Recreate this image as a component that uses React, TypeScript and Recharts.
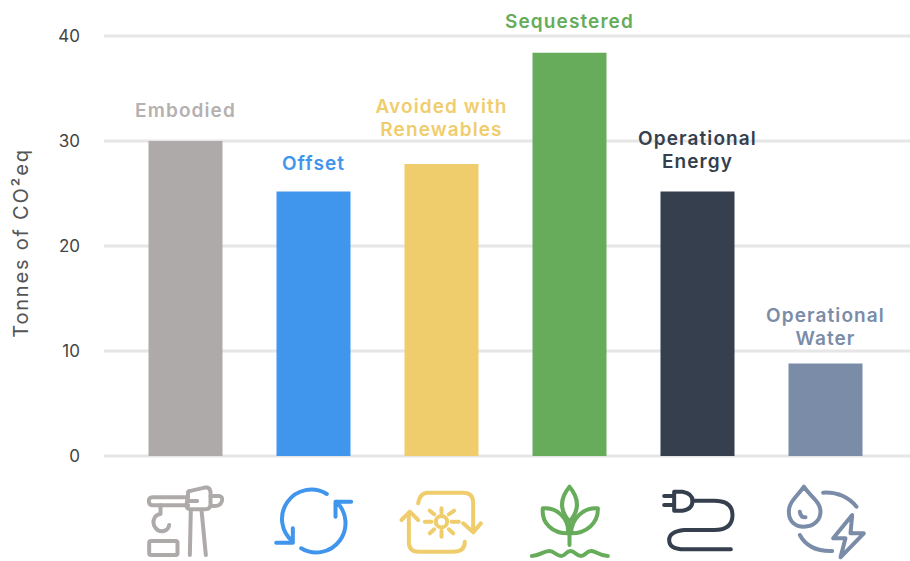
import React from 'react';
import { BarChart, Bar, Cell, XAxis, YAxis, CartesianGrid, LabelList } from 'recharts';

const categories = ['Embodied', 'Offset', 'Avoided with Renewables', 'Sequestered', 'Operational Energy', 'Operational Water'];
const values = [30, 25.2, 27.8, 38.4, 25.2, 8.8];
const yTicks = [0, 10, 20, 30, 40];

const labelLines = [['Embodied'], ['Offset'], ['Avoided with', 'Renewables'], ['Sequestered'], ['Operational', 'Energy'], ['Operational', 'Water']];
const colors = ['#aeaaa9', '#4095ec', '#f0cd6c', '#66ac5a', '#353f4e', '#7a8ca8'];
const labelColors = ['#b4b1b0', '#4095ec', '#f0cd6c', '#66ac5a', '#353f4e', '#7a8ca8'];
const labelGaps = [24, 21, 28, 25, 23, 19];

const data = categories.map((name, i) => ({ name, value: values[i] }));
const font = 'Inter, sans-serif';

// icons are drawn in 3x units, so 1 unit = 1/3 px
const iconCenters = [197, 582, 970, 175, 560, 945];
const icons: React.ReactNode[] = [
  <>
    <path d="M205 82H98Q86 82 87 94Q88 106 100 106H205M272 78H298Q310 80 306 94Q301 108 285 108H272" />
    <path d="M205 70Q202 62 215 62L258 52Q270 52 272 65V105Q270 118 255 118H215Q200 118 200 105ZM205 93H232" />
    <path d="M122 106V132C100 135 95 160 108 175C120 190 145 185 148 165" />
    <rect x={88} y={213} width={85} height={42} rx={6} />
    <path d="M213 120L210 255M245 120L258 255" />
  </>,
  <>
    <path d="M622 72A88 88 0 0 0 520 215M520 175V218H470" />
    <path d="M545 235A88 88 0 0 0 650 95M695 95H648V140" />
  </>,
  <>
    <path d="M900 100Q905 68 930 68H1035Q1065 68 1065 98V185M1035 160L1065 187L1088 160" />
    <path d="M1040 215Q1040 245 1005 245H900Q872 245 872 215V130M850 150L875 125L900 150" />
    <circle cx={970} cy={155} r={17} />
    <path d="M920 155H940M1000 155H1022M970 115V128M970 182V200M935 122L948 133M1008 122L992 133M935 190L948 178M1005 190L992 178" />
  </>,
  <>
    <path d="M175 225V150M175 50C150 80 140 115 175 155C210 115 200 80 175 50Z" />
    <path d="M95 115C140 110 175 150 170 190C125 190 90 160 95 115ZM260 115C215 110 180 150 180 190C225 190 262 160 260 115Z" />
    <path d="M62 258C85 258 95 243 115 243C130 243 135 258 150 258C162 258 165 243 178 243C192 243 195 258 210 258C222 258 225 243 240 243C255 243 265 258 290 258" />
  </>,
  <>
    <path d="M460 78H490M460 105H490M490 65H515Q545 70 545 92Q545 118 515 122H490Z" />
    <path d="M545 92H610Q665 92 665 135Q665 180 610 180H520Q475 185 475 210Q475 238 520 238H660" />
  </>,
  <>
    <path d="M880 50C860 80 835 95 835 125C835 155 855 170 880 170C910 170 930 150 930 125C930 95 900 80 880 50ZM868 125Q870 142 885 142" />
    <path d="M938 68Q1000 65 1038 110M868 195Q895 245 965 243" />
    <path d="M1025 135L968 205H1005L990 262L1060 190H1020Z" />
  </>,
];

function IconTick({ x, index }: any) {
  return (
    <g
      transform={`translate(${x - iconCenters[index] / 3},470) scale(${1 / 3})`}
      fill="none"
      stroke={colors[index]}
      strokeWidth={12}
      strokeLinecap="round"
      strokeLinejoin="round"
    >
      {icons[index]}
    </g>
  );
}

function BarLabel({ x, y, width, index }: any) {
  const lines = labelLines[index];
  const lastBaseline = y - labelGaps[index];
  return (
    <text
      x={x + width / 2}
      textAnchor="middle"
      fontFamily={font}
      fontSize={19}
      fontWeight={600}
      letterSpacing={1.1}
      fill={labelColors[index]}
    >
      {lines.map((line, i) => (
        <tspan key={line} x={x + width / 2} y={lastBaseline - (lines.length - 1 - i) * 23}>
          {line}
        </tspan>
      ))}
    </text>
  );
}

export default function App() {
  return (
    <div style={{ position: 'absolute', left: 0, top: 0, width: 910, height: 561, background: '#fff' }}>
      <BarChart width={910} height={561} data={data} margin={{ top: 36, right: 0, left: 0, bottom: 0 }}>
        <CartesianGrid horizontal vertical={false} stroke="#e6e6e6" strokeWidth={3} />
        <XAxis
          dataKey="name"
          height={105}
          axisLine={false}
          tickLine={false}
          interval={0}
          padding={{ left: 17.5, right: 20.5 }}
          tick={<IconTick />}
        />
        <YAxis
          width={104}
          domain={[0, 40]}
          ticks={yTicks}
          axisLine={false}
          tickLine={false}
          tickMargin={18}
          tick={{ fontFamily: font, fontSize: 17, fill: '#444444' }}
          label={{
            value: 'Tonnes of CO²eq',
            angle: -90,
            position: 'center',
            dx: -31,
            dy: -3,
            style: { fontFamily: font, fontSize: 20, fill: '#555555', letterSpacing: 1.8, textAnchor: 'middle' },
          }}
        />
        <Bar dataKey="value" barSize={74} isAnimationActive={false}>
          {data.map((d, i) => (
            <Cell key={d.name} fill={colors[i]} />
          ))}
          <LabelList dataKey="value" content={<BarLabel />} />
        </Bar>
      </BarChart>
    </div>
  );
}
